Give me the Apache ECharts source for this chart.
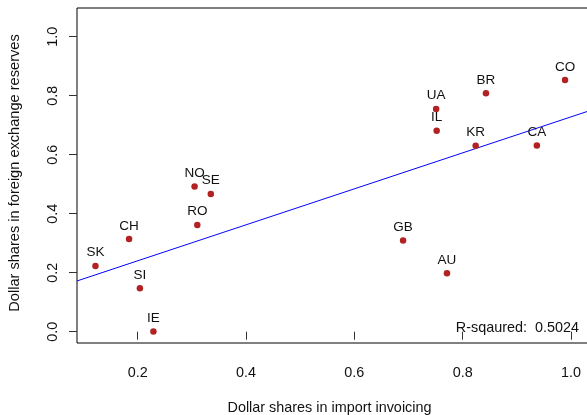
<!DOCTYPE html>
<html>
<head>
<meta charset="utf-8">
<script src="https://cdn.jsdelivr.net/npm/echarts@6/dist/echarts.min.js"></script>
<style>
  html, body { margin: 0; padding: 0; background: #fff; }
  #chart { width: 587px; height: 415px; }
</style>
</head>
<body>
<div id="chart"></div>
<script>
// ---- data ----
const countries = ['SK', 'CH', 'SI', 'IE', 'NO', 'RO', 'SE', 'GB', 'UA', 'IL', 'AU', 'KR', 'BR', 'CA', 'CO'];
const importShares = [0.122, 0.184, 0.204, 0.229, 0.305, 0.310, 0.335, 0.690, 0.751, 0.752, 0.771, 0.824, 0.843, 0.937, 0.989];
const reserveShares = [0.223, 0.314, 0.147, 0.001, 0.492, 0.362, 0.467, 0.309, 0.755, 0.681, 0.198, 0.630, 0.808, 0.631, 0.853];
const xTicks = [0.2, 0.4, 0.6, 0.8, 1.0];
const yTicks = [0.0, 0.2, 0.4, 0.6, 0.8, 1.0];
const fitIntercept = 0.1184;
const fitSlope = 0.6098;
const rSquaredText = 'R-sqaured:  0.5024';
const xTitle = 'Dollar shares in import invoicing';
const yTitle = 'Dollar shares in foreign exchange reserves';

const xMin = 0.0879, xMax = 1.0388;
const yMin = -0.0383, yMax = 1.0973;

const points = countries.map((c, i) => [importShares[i], reserveShares[i], c]);
const fitLine = [[xMin, fitIntercept + fitSlope * xMin], [xMax, fitIntercept + fitSlope * xMax]];

const FONT = '"Liberation Sans", Arial, sans-serif';
const chart = echarts.init(document.getElementById('chart'), null, { renderer: 'canvas' });
chart.setOption({
  animation: false,
  backgroundColor: '#ffffff',
  grid: {
    left: 77, top: 8, right: -5, bottom: 72,
    containLabel: false,
    outerBoundsMode: 'none',
    show: true, borderColor: '#000', borderWidth: 1, backgroundColor: 'transparent'
  },
  xAxis: {
    type: 'value', min: xMin, max: xMax,
    name: xTitle, nameLocation: 'middle', nameGap: 58,
    nameTextStyle: { fontFamily: FONT, fontSize: 14.4, color: '#111', padding: [0, 10, 0, 0] },
    axisLine: { show: false },
    splitLine: { show: false },
    axisTick: { show: true, length: 8, inside: false, customValues: xTicks, lineStyle: { color: '#333', width: 1 } },
    axisLabel: {
      customValues: xTicks, margin: 23, fontFamily: FONT, fontSize: 14.4, color: '#111',
      formatter: v => Number(v).toFixed(1)
    }
  },
  yAxis: {
    type: 'value', min: yMin, max: yMax,
    name: yTitle, nameLocation: 'middle', nameGap: 55, nameRotate: 90,
    nameTextStyle: { fontFamily: FONT, fontSize: 14.6, color: '#111', padding: [0, 0, 0, 5] },
    axisLine: { show: false },
    splitLine: { show: false },
    axisTick: { show: true, length: 8, inside: false, customValues: yTicks, lineStyle: { color: '#333', width: 1 } },
    axisLabel: {
      customValues: yTicks, margin: 17, rotate: 90, fontFamily: FONT, fontSize: 14.4, color: '#111',
      formatter: v => Number(v).toFixed(1)
    }
  },
  series: [
    {
      type: 'line',
      data: fitLine,
      symbol: 'none',
      clip: true,
      lineStyle: { color: '#0000ff', width: 1 },
      z: 2
    },
    {
      type: 'scatter',
      data: points,
      symbol: 'circle',
      symbolSize: 6.5,
      itemStyle: { color: '#b22222', opacity: 1 },
      label: {
        show: true, position: 'top', distance: 3,
        fontFamily: FONT, fontSize: 13.5, color: '#111',
        formatter: p => p.data[2]
      },
      z: 3
    }
  ],
  graphic: [
    {
      type: 'text',
      right: 8, top: 321,
      style: { text: rSquaredText, fontFamily: FONT, fontSize: 14.4, fill: '#111' }
    }
  ]
});
</script>
</body>
</html>
